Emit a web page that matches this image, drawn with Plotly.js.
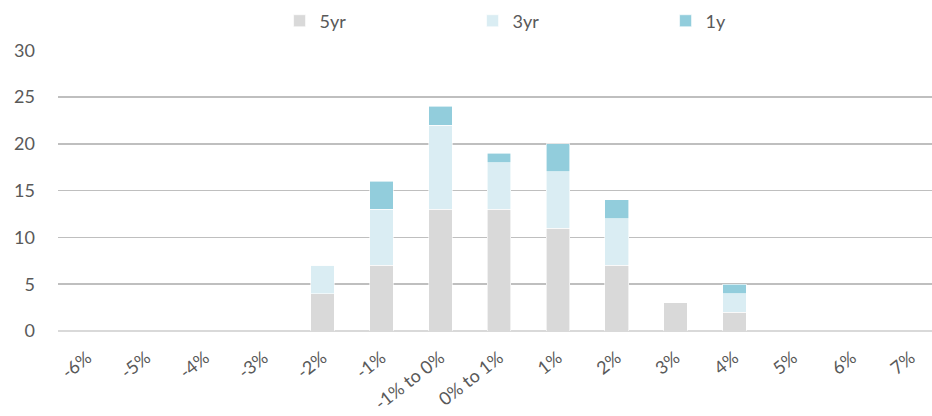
<!DOCTYPE html>
<html><head><meta charset="utf-8">
<script src="https://cdn.plot.ly/plotly-3.0.1.min.js"></script>
<style>html,body{margin:0;padding:0;background:#fff;}#chart{width:932px;height:416px;}</style>
</head><body><div id="chart"></div>
<script>
const categories = ["-6%","-5%","-4%","-3%","-2%","-1%","-1% to 0%","0% to 1%","1%","2%","3%","4%","5%","6%","7%"];
const fiveYr  = [0,0,0,0,4,7,13,13,11,7,3,2,0,0,0];
const threeYr = [0,0,0,0,3,6,9,5,6,5,0,2,0,0,0];
const oneYr   = [0,0,0,0,0,3,2,1,3,2,0,1,0,0,0];
const yTicks = [0,5,10,15,20,25,30];

const font = {family: "Lato, 'Open Sans', sans-serif", size: 18, color: "#595959"};
const xfont = {family: "Lato, 'Open Sans', sans-serif", size: 18, color: "#595959"};
function tr(name, vals, color){
  return {type:"bar", name:name, x:categories, y:vals, width:0.4,
    marker:{color:color, line:{color:"#ffffff", width:0.6}}, hoverinfo:"skip"};
}
const data = [tr("5yr", fiveYr, "#d9d9d9"), tr("3yr", threeYr, "#daedf3"), tr("1y", oneYr, "#92cddc")];
const layout = {
  width:932, height:416, barmode:"stack",
  margin:{l:58, r:0, t:50, b:84.5, autoexpand:false},
  paper_bgcolor:"#fff", plot_bgcolor:"#fff",
  font:font, showlegend:true,
  legend:{orientation:"h", x:0.2535, xanchor:"left", y:1.103, yanchor:"middle",
    entrywidth:148, entrywidthmode:"pixels", font:font, traceorder:"normal"},
  xaxis:{type:"category", range:[-0.5, 14.36], tickangle:-38, tickfont:xfont,
    showgrid:false, zeroline:false, showline:false, ticks:"", fixedrange:true, ticklabelstandoff:12},
  yaxis:{range:[0,30.02], tickvals:yTicks, ticktext:yTicks.map(String), tickfont:font,
    showgrid:true, gridcolor:"#bfbfbf", gridwidth:1.6, zeroline:true, zerolinecolor:"#d9d9d9", zerolinewidth:2,
    showline:false, ticks:"", ticklen:0, layer:"below traces", fixedrange:true, ticklabelstandoff:22}
};
Plotly.newPlot("chart", data, layout, {staticPlot:true});
</script></body></html>
